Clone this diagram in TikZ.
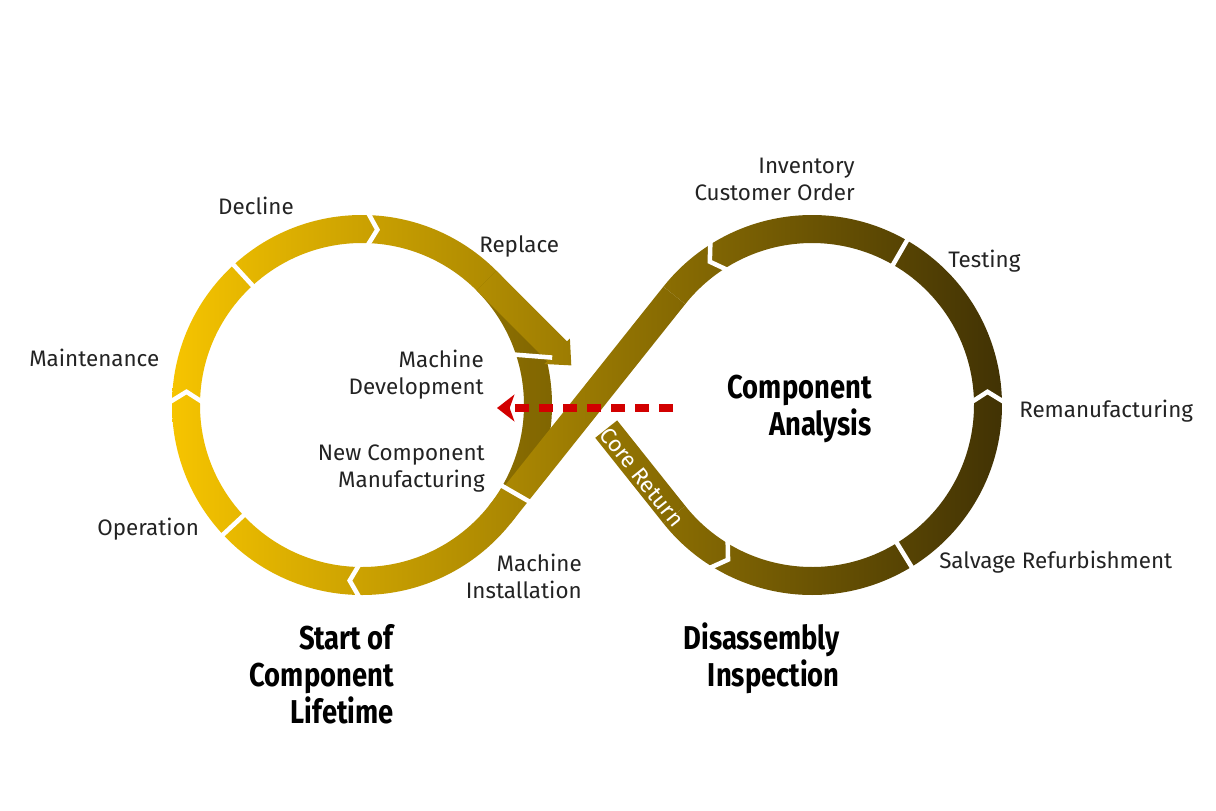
\documentclass[tikz,border=0pt]{standalone}
\usepackage{fontspec}
\setmainfont{Fira Sans}
\newfontfamily\headfont{Fira Sans}[FakeStretch=0.83]
\usepackage{tikz}
\usetikzlibrary{calc,arrows.meta}

\definecolor{goldL}{RGB}{246,196,0}
\definecolor{goldR}{RGB}{60,46,4}
\definecolor{dashred}{RGB}{210,0,0}
\definecolor{txtgray}{RGB}{35,35,35}

\begin{document}
\begin{tikzpicture}[x=0.75pt,y=0.75pt,yscale=-1,xscale=1,
  goldband/.style={path picture={\shade[left color=goldL,right color=goldR] (172,150) rectangle (1002,660);}},
  shadow/.style={fill=black,fill opacity=0.2},
  gap/.style={draw=white,line width=3.4pt,line join=miter},
  lbl/.style={font=\fontsize{16.8}{20.25}\selectfont,text=txtgray,inner sep=0.75pt},
  head/.style={font=\headfont\bfseries\fontsize{24.75}{27.75}\selectfont,text=black,inner sep=0.75pt}]
\useasboundingbox (0,0) rectangle (1216,810);

\coordinate (L) at (362,405);
\coordinate (R) at (812,405);

%Shape: Left ring
\path[goldband] ($(L)+(0:190)$) arc[start angle=0,end angle=360,radius=190] -- cycle ($(L)+(0:162)$) arc[start angle=360,end angle=0,radius=162] -- cycle;
%Shape: Right ring
\path[goldband] ($(R)+(-141.47:190)$) arc[start angle=-141.47,end angle=141.47,radius=190] -- ($(R)+(141.47:162)$) arc[start angle=141.47,end angle=-141.47,radius=162] -- cycle;
%Straight Lines: core return band
\path[goldband] (617.15,420.38) -- (685.28,505.92) -- (663.38,523.36) -- (595.25,437.82) -- cycle;
%Shape: shaded part under the crossing
\path[shadow] ($(L)+(-45:190)$) arc[start angle=-45,end angle=30,radius=190] -- ($(L)+(30:162)$) arc[start angle=30,end angle=-45,radius=162] -- cycle;
%Straight Lines: diagonal band
\path[goldband] (663.38,286.64) -- (685.28,304.08) -- (510.62,523.36) -- (488.72,505.92) -- cycle;
%Shape: replace arrow
\path[goldband] (496.35,270.65) -- (567.06,341.36) -- (569.89,338.53) -- (571.3,365.4) -- (544.43,363.99) -- (547.26,361.16) -- (476.55,290.45) -- cycle;

%Straight Lines: gaps on the left ring
\draw[gap] ($(L)+(30:155)$) -- ($(L)+(30:200)$);
\draw[gap] ($(L)+(90:197)$) -- ($(L)+(94:176)$) -- ($(L)+(90:155)$);
\draw[gap] ($(L)+(137:155)$) -- ($(L)+(137:197)$);
\draw[gap] ($(L)+(180:197)$) -- ($(L)+(184.3:176)$) -- ($(L)+(180:155)$);
\draw[gap] ($(L)+(227.5:155)$) -- ($(L)+(227.5:197)$);
\draw[gap] ($(L)+(271:197)$) -- ($(L)+(275:176)$) -- ($(L)+(271:155)$);
\draw[gap] ($(L)+(-19:156)$) -- ($(L)+(-14:196)$);
%Straight Lines: gaps on the right ring
\draw[gap] ($(R)+(123:197)$) -- ($(R)+(118.5:176)$) -- ($(R)+(123:155)$);
\draw[gap] ($(R)+(58.4:155)$) -- ($(R)+(58.4:197)$);
\draw[gap] ($(R)+(0:197)$) -- ($(R)+(-4.3:176)$) -- ($(R)+(0:155)$);
\draw[gap] ($(R)+(-60:155)$) -- ($(R)+(-60:197)$);
\draw[gap] ($(R)+(-121:197)$) -- ($(R)+(-125.5:176)$) -- ($(R)+(-121:155)$);

% Text Node
\node[lbl,text=white,rotate=-51.47] (coretxt) at (642,477) {Core Return};

%Straight Lines: red dashed arrow
\coordinate (dashS) at (673,408);
\coordinate (dashE) at (497,408);
\draw[dashred,line width=6pt,dash pattern=on 10.5pt off 7.5pt,-{Stealth[length=13pt,width=20pt,inset=3.5pt]}] (dashS) -- (dashE);

% Text Node
\node[lbl,anchor=north] (decline) at (256,196) {Decline};
% Text Node
\node[lbl,anchor=north west] (replace) at (478,234) {Replace};
% Text Node
\node[lbl,anchor=north west] (maint) at (28,348) {Maintenance};
% Text Node
\node[lbl,anchor=north east,align=right] (macdev) at (485,349) {Machine\\Development};
% Text Node
\node[lbl,anchor=north east,align=right] (newcomp) at (486,444) {New Component\\Manufacturing};
% Text Node
\node[lbl,anchor=north west] (operation) at (96,517) {Operation};
% Text Node
\node[lbl,anchor=north east,align=right] (macinst) at (583,553) {Machine\\Installation};
% Text Node
\node[lbl,anchor=north east,align=right] (inventory) at (856,157) {Inventory\\Customer Order};
% Text Node
\node[lbl,anchor=north west] (testing) at (947,249) {Testing};
% Text Node
\node[lbl,anchor=north west] (reman) at (1018,399) {Remanufacturing};
% Text Node
\node[lbl,anchor=north west] (salvage) at (938,550) {Salvage Refurbishment};
% Text Node
\node[head,anchor=north east,align=right] (compan) at (873,374) {Component\\Analysis};
% Text Node
\node[head,anchor=north east,align=right] (start) at (395,623) {Start of\\Component\\Lifetime};
% Text Node
\node[head,anchor=north east,align=right] (disasm) at (841,621) {Disassembly\\Inspection};

\end{tikzpicture}
\end{document}
